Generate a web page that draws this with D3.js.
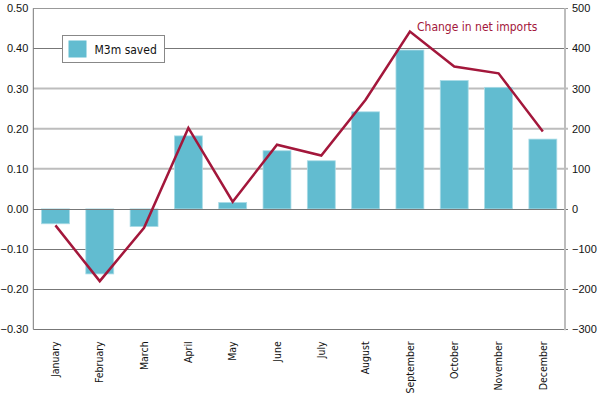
<!DOCTYPE html>
<html>
<head>
<meta charset="utf-8">
<script src="https://cdn.jsdelivr.net/npm/d3@7"></script>
<style>
  body { margin: 0; background: #fff; }
</style>
</head>
<body>
<div id="chart"></div>
<script>
var months = ["January", "February", "March", "April", "May", "June",
  "July", "August", "September", "October", "November", "December"];
var m3mSaved = [-0.037, -0.162, -0.044, 0.182, 0.016, 0.145,
  0.120, 0.242, 0.396, 0.320, 0.303, 0.174];
var netImports = [-41, -180, -47, 202, 18, 160, 133, 272, 442, 355, 338, 193];
var leftTicks = [-0.3, -0.2, -0.1, 0, 0.1, 0.2, 0.3, 0.4, 0.5];
var rightTicks = [-300, -200, -100, 0, 100, 200, 300, 400, 500];

var width = 598, height = 396;
var margin = {top: 8.3, right: 33, bottom: 66.7, left: 33.3};
var barColor = "#62bcd0", lineColor = "#a3173b";
var tickFont = "Liberation Sans";
var labelFont = "DejaVu Sans Condensed";

var svg = d3.select("#chart").append("svg")
  .attr("width", width)
  .attr("height", height);

var x = d3.scaleBand()
  .domain(months)
  .range([margin.left, width - margin.right])
  .paddingInner(0.37)
  .paddingOuter(0.185);

var y = d3.scaleLinear().domain([-0.3, 0.5]).range([height - margin.bottom, margin.top]);
var y2 = d3.scaleLinear().domain([-300, 500]).range([height - margin.bottom, margin.top]);

// gridlines (light ones behind the bars)
svg.append("g").selectAll("line")
  .data(leftTicks.filter(d => d > 0.05 && d < 0.35))
  .enter().append("line")
  .attr("x1", margin.left).attr("x2", width - margin.right + 3)
  .attr("y1", d => y(d)).attr("y2", d => y(d))
  .attr("stroke", "#bdbdbd").attr("stroke-width", 2);

svg.append("g").selectAll("line")
  .data(leftTicks.filter(d => !(d > 0.05 && d < 0.35)))
  .enter().append("line")
  .attr("x1", margin.left).attr("x2", width - margin.right + 3)
  .attr("y1", d => Math.round(y(d)) + 0.5).attr("y2", d => Math.round(y(d)) + 0.5)
  .attr("stroke", d => d === 0.5 ? "#999" : "#777").attr("stroke-width", 1);

// bars
svg.append("g").selectAll("rect")
  .data(m3mSaved)
  .enter().append("rect")
  .attr("x", (d, i) => x(months[i]))
  .attr("width", x.bandwidth())
  .attr("y", d => d >= 0 ? y(d) : y(0))
  .attr("height", d => Math.abs(y(d) - y(0)))
  .attr("fill", barColor)
  .attr("stroke", "#a9dbe6")
  .attr("stroke-width", 0.8);

// zero line on top
svg.append("line")
  .attr("x1", margin.left).attr("x2", width - margin.right)
  .attr("y1", Math.round(y(0)) + 0.5).attr("y2", Math.round(y(0)) + 0.5)
  .attr("stroke", "#777");

// axes lines
svg.append("line")
  .attr("x1", margin.left).attr("x2", margin.left)
  .attr("y1", margin.top).attr("y2", height - margin.bottom)
  .attr("stroke", "#777");
svg.append("line")
  .attr("x1", width - margin.right).attr("x2", width - margin.right)
  .attr("y1", margin.top).attr("y2", height - margin.bottom + 1)
  .attr("stroke", "#bdbdbd").attr("stroke-width", 2);

// line
var line = d3.line()
  .x((d, i) => x(months[i]) + x.bandwidth() / 2)
  .y(d => y2(d));
svg.append("path")
  .datum(netImports)
  .attr("d", line)
  .attr("fill", "none")
  .attr("stroke", lineColor)
  .attr("stroke-width", 2.5)
  .attr("stroke-linejoin", "miter");

// left axis
var leftAxis = svg.append("g")
  .attr("transform", "translate(" + margin.left + ",0)")
  .call(d3.axisLeft(y).tickValues(leftTicks).tickFormat(d3.format(".2f")).tickSize(0).tickPadding(5))
  .attr("font-family", tickFont).attr("font-size", 11);
leftAxis.select(".domain").remove();
leftAxis.selectAll("text").attr("fill", "#111");

// right axis
var rightAxis = svg.append("g")
  .attr("transform", "translate(" + (width - margin.right) + ",0)")
  .call(d3.axisRight(y2).tickValues(rightTicks).tickFormat(d3.format("d")).tickSize(0).tickPadding(7))
  .attr("font-family", tickFont).attr("font-size", 11);
rightAxis.select(".domain").remove();
rightAxis.selectAll("text").attr("fill", "#111");

// month labels
var xAxis = svg.append("g")
  .attr("transform", "translate(0," + (height - margin.bottom) + ")")
  .call(d3.axisBottom(x).tickSize(0).tickPadding(0))
  .attr("font-family", labelFont).attr("font-size", 10.5);
xAxis.select(".domain").remove();
xAxis.selectAll("text")
  .attr("transform", "rotate(-90)")
  .attr("x", -12).attr("y", 0).attr("dy", "0.35em")
  .attr("text-anchor", "end")
  .attr("fill", "#111");

// legend
var legend = svg.append("g").attr("transform", "translate(62.5,35.5)");
legend.append("rect").attr("width", 102).attr("height", 27)
  .attr("fill", "#fff").attr("stroke", "#888");
legend.append("rect").attr("x", 6).attr("y", 5).attr("width", 18).attr("height", 17)
  .attr("fill", barColor);
legend.append("text").attr("x", 32).attr("y", 18.5)
  .attr("font-family", labelFont).attr("font-size", 12).attr("fill", "#111")
  .text("M3m saved");

// annotation
svg.append("text")
  .attr("x", 417).attr("y", 31)
  .attr("font-family", labelFont).attr("font-size", 12).attr("fill", lineColor)
  .text("Change in net imports");
</script>
</body>
</html>
